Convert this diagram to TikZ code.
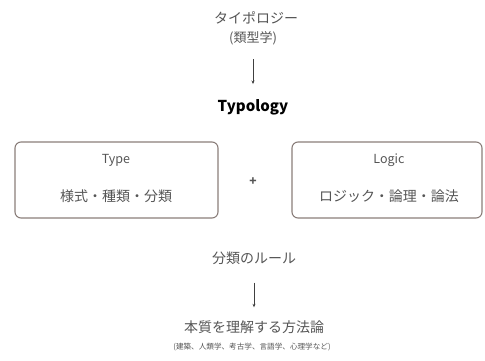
\documentclass[tikz,border=0pt]{standalone}
\usepackage{fontspec}
\setmainfont{Noto Sans CJK JP}
\usetikzlibrary{arrows.meta}
\definecolor{txtgray}{HTML}{555555}
\definecolor{boxgray}{HTML}{8A7E7A}

\begin{document}
\begin{tikzpicture}[x=1pt, y=-1pt, inner sep=0pt,
  label/.style={text=txtgray, font=\fontsize{14}{16}\selectfont},
  latin/.style={text=txtgray, font=\fontsize{12.5}{15}\selectfont},
  panel/.style={draw=boxgray, line width=1.1pt, rounded corners=6pt},
  flow/.style={-{Stealth[length=3.5pt, width=3pt]}, line width=0.6pt, black!75}]
\useasboundingbox (0,0) rectangle (485,361);

\node[label] (kana) at (256,18) {タイポロジー};
\node[label, font=\fontsize{13}{15}\selectfont] (kanji) at (253,38.5) {(類型学)};
\node[font=\bfseries\fontsize{15}{18}\selectfont] (typ) at (253,107) {Typology};

\draw[panel] (15,142) rectangle (218,218);
\node[latin] (t1) at (116,160) {Type};
\node[label] (t2) at (116,196) {様式・種類・分類};

\node[text=txtgray, font=\bfseries\fontsize{12}{14}\selectfont] (plus) at (253,182) {+};

\draw[panel] (292,142) rectangle (482,218);
\node[latin] (l1) at (389,160) {Logic};
\node[label] (l2) at (389,196) {ロジック・論理・論法};

\node[label] (rule) at (254,258) {分類のルール};
\node[label] (meth) at (254,327.5) {本質を理解する方法論};
\node[text=txtgray, font=\fontsize{7.6}{9}\selectfont] (note) at (252,347) {(建築、人類学、考古学、言語学、心理学など)};

\draw[flow, shorten <=14pt, shorten >=15pt] (kanji) edge (typ);
\draw[flow, shorten <=18pt, shorten >=13.5pt] (rule) edge (meth);
\end{tikzpicture}
\end{document}
